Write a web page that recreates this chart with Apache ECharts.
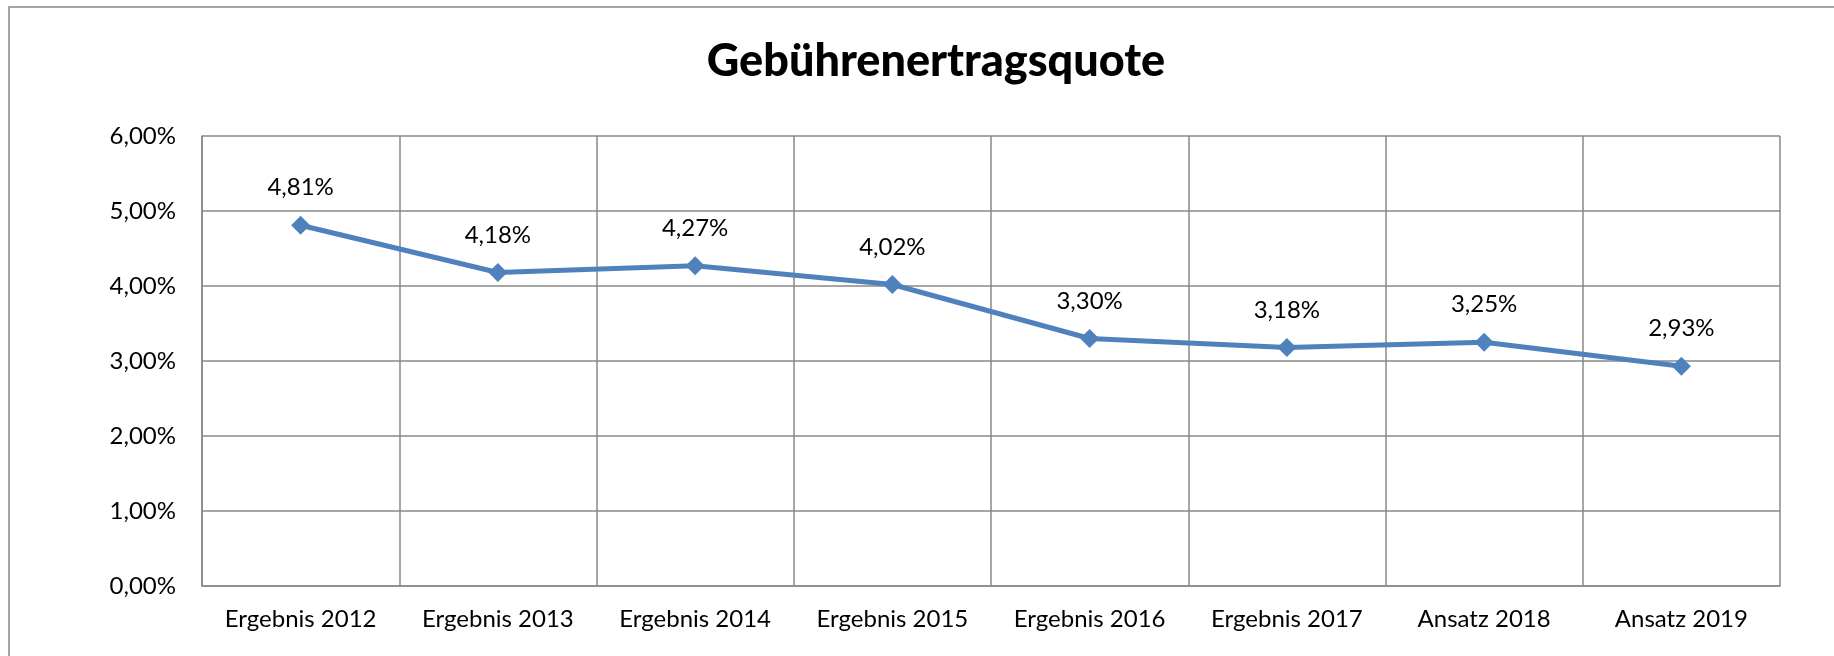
<!DOCTYPE html>
<html>
<head>
<meta charset="utf-8">
<title>Gebührenertragsquote</title>
<script src="https://cdn.jsdelivr.net/npm/echarts@6/dist/echarts.min.js"></script>
<style>
  html, body { margin: 0; padding: 0; background: #fff; }
  #chart { width: 1834px; height: 656px; }
</style>
</head>
<body>
<div id="chart"></div>
<script>
// Data
const categories = [
  'Ergebnis 2012', 'Ergebnis 2013', 'Ergebnis 2014', 'Ergebnis 2015',
  'Ergebnis 2016', 'Ergebnis 2017', 'Ansatz 2018', 'Ansatz 2019'
];
const quoteValues = [4.81, 4.18, 4.27, 4.02, 3.30, 3.18, 3.25, 2.93];
const yTicks = [0, 1, 2, 3, 4, 5, 6];

const FONT = 'Lato, "Open Sans", sans-serif';
const GRID_COLOR = '#898989';
const LINE_COLOR = '#4F81BD';

// German percent formatting: 4.81 -> "4,81%"
function pct(v) {
  return v.toFixed(2).replace('.', ',') + '%';
}

const chart = echarts.init(document.getElementById('chart'));

chart.setOption({
  animation: false,
  title: {
    text: 'Gebührenertragsquote',
    left: 931,
    top: 34,
    textAlign: 'center',
    textStyle: {
      fontFamily: FONT,
      fontSize: 45,
      fontWeight: 900,
      color: '#000'
    }
  },
  graphic: [{
    type: 'rect',
    shape: { x: 9, y: 7, width: 1900, height: 800 },
    style: { fill: 'none', stroke: '#868686', lineWidth: 1.5 },
    silent: true
  }],
  grid: {
    left: 202,
    right: 54,
    top: 136,
    bottom: 70,
    containLabel: false
  },
  xAxis: {
    type: 'category',
    data: categories,
    boundaryGap: true,
    axisLine: { show: true, lineStyle: { color: GRID_COLOR, width: 1.5 } },
    axisTick: { show: false },
    axisLabel: {
      margin: 21,
      fontFamily: FONT,
      fontSize: 24,
      color: '#000',
      interval: 0
    },
    splitLine: { show: true, interval: 0, lineStyle: { color: GRID_COLOR, width: 1.5 } }
  },
  yAxis: {
    type: 'value',
    min: yTicks[0],
    max: yTicks[yTicks.length - 1],
    interval: 1,
    axisLine: { show: true, lineStyle: { color: GRID_COLOR, width: 1.5 } },
    axisTick: { show: false },
    axisLabel: {
      margin: 26,
      fontFamily: FONT,
      fontSize: 24,
      color: '#000',
      formatter: (v) => pct(v)
    },
    splitLine: { show: true, lineStyle: { color: GRID_COLOR, width: 1.5 } }
  },
  series: [{
    name: 'Gebührenertragsquote',
    type: 'line',
    data: quoteValues,
    symbol: 'diamond',
    symbolSize: 19,
    lineStyle: { color: LINE_COLOR, width: 5 },
    itemStyle: { color: LINE_COLOR },
    label: {
      show: true,
      position: 'top',
      distance: 16,
      fontFamily: FONT,
      fontSize: 24,
      color: '#000',
      formatter: (p) => pct(p.value)
    }
  }]
});
</script>
</body>
</html>
